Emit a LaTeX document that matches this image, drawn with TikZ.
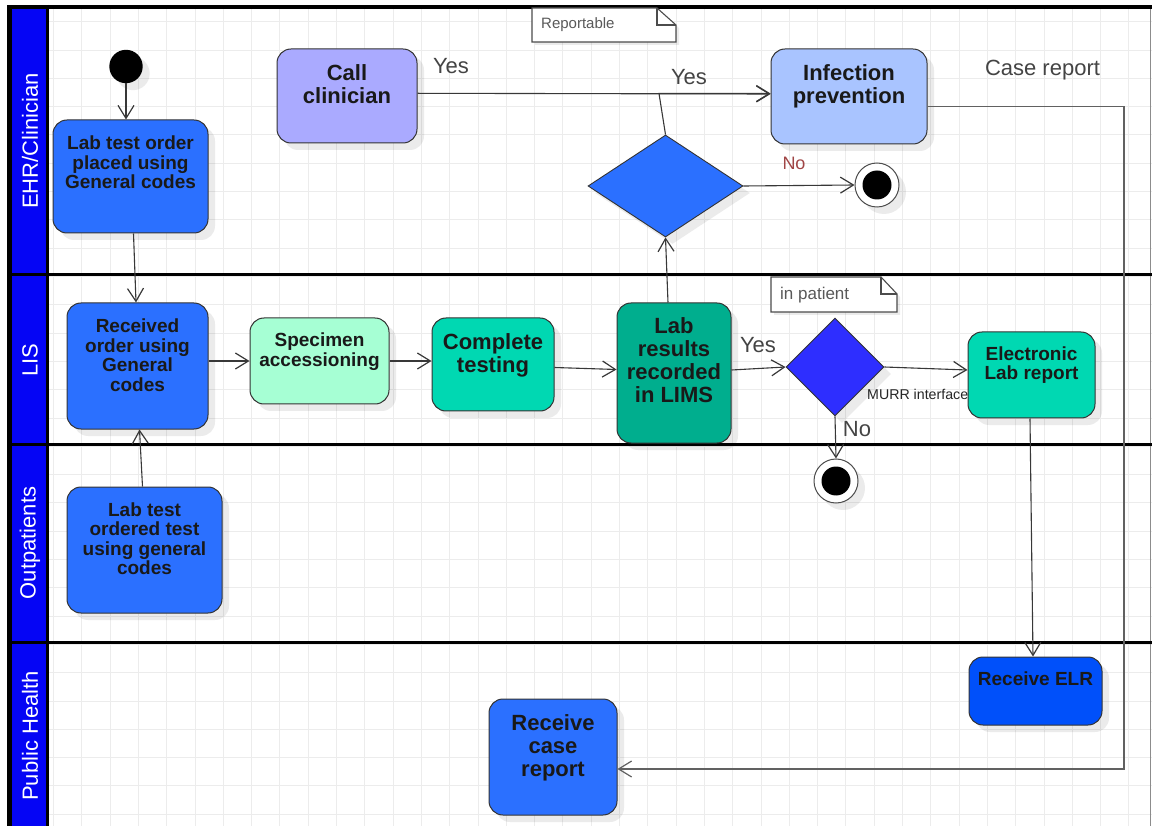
\documentclass[tikz,border=0pt]{standalone}
\usepackage{fontspec}
\setmainfont{Liberation Sans}
\usetikzlibrary{arrows.meta,shapes.geometric,shadows,calc}

\definecolor{lanehead}{HTML}{0505F5}
\definecolor{actblue}{HTML}{2B70FF}
\definecolor{actlav}{HTML}{AAAAFF}
\definecolor{actsky}{HTML}{A9C4FF}
\definecolor{actmint}{HTML}{A6FFD4}
\definecolor{actteal}{HTML}{00D8B2}
\definecolor{actdark}{HTML}{00AE8E}
\definecolor{actdeep}{HTML}{0050FA}
\definecolor{decblue}{HTML}{2E2EFF}
\definecolor{gridgray}{HTML}{ECECEC}
\definecolor{notxt}{HTML}{A04545}
\definecolor{lbltxt}{HTML}{444444}

\newcommand\fsz[2]{\fontsize{#1}{#2}\selectfont}

\begin{document}
\begin{tikzpicture}[x=1pt,y=-1pt,
  softshadow/.style={drop shadow={shadow xshift=7pt,shadow yshift=-7pt,opacity=0.08,fill=black}},
  act/.style={draw=black!80,line width=1pt,rounded corners=14pt,inner sep=0pt,softshadow},
  acttext/.style={anchor=north,align=center,inner sep=0pt,text=black!90},
  bigtext/.style={acttext,font=\bfseries\fsz{22}{23}},
  smalltext/.style={acttext,font=\bfseries\fsz{19}{19.5}},
  dec/.style={diamond,draw=black!80,line width=0.9pt,inner sep=0pt,softshadow},
  flow/.style={draw=black!78,line width=1.1pt,-{Straight Barb[length=13pt,width=16pt,line width=1.2pt]}},
  gridline/.style={draw=gridgray,line width=0.8pt},
  lanelabel/.style={rotate=90,text=white,font=\fsz{22}{22},inner sep=0pt},
  edgelabel/.style={text=lbltxt,font=\fsz{22}{22},inner sep=0pt},
  notebox/.style={draw=black!70,line width=1.1pt,fill=white,drop shadow={shadow xshift=3pt,shadow yshift=-3pt,opacity=0.08,fill=black}},
  notetext/.style={anchor=west,text=black!65,inner sep=0pt},
  endring/.style={circle,draw=black!70,line width=1pt,fill=white,minimum size=44pt,inner sep=0pt,softshadow},
  enddot/.style={circle,fill=black,minimum size=29pt,inner sep=0pt}
]
\useasboundingbox (0,0) rectangle (1152,826);
\fill[white] (0,0) rectangle (1152,826);

% background grid of the pool
\foreach \i in {0,...,38} {\draw[gridline] ({53.4+28.3*\i},9) -- ({53.4+28.3*\i},826);}
\foreach \j in {0,...,28} {\draw[gridline] (47,{21.7+28.3*\j}) -- (1152,{21.7+28.3*\j});}

% lane header column and pool borders
\fill[lanehead] (10,8) rectangle (47,826);
\fill[black] (7,5) rectangle (12,826);
\draw[line width=3pt] (47.5,5) -- (47.5,826);
\fill[black] (7,5) rectangle (1152,9.5);
\draw[black!45,line width=1pt] (1150.5,9) -- (1150.5,826);
\foreach \yy in {275,444,642} {\draw[line width=3pt] (7,\yy) -- (1152,\yy);}

\node[lanelabel] (laneehr) at (30,141) {EHR/Clinician};
\node[lanelabel] (lanelis) at (30,360) {LIS};
\node[lanelabel] (laneout) at (30,543) {Outpatients};
\node[lanelabel] (lanepub) at (30,736) {Public Health};

% notes
\draw[notebox] (532,8) -- (657,8) -- (676,25) -- (676,42) -- (532,42) -- cycle;
\draw[black!70,line width=1.1pt] (657,8) -- (657,25) -- (676,25);
\node[notetext,font=\fsz{15}{15}] (notereport) at (541,25) {Reportable};
\draw[notebox] (771,277) -- (881,277) -- (897,294) -- (897,312) -- (771,312) -- cycle;
\draw[black!70,line width=1.1pt] (881,277) -- (881,294) -- (897,294);
\node[notetext,font=\fsz{17}{17}] (notepatient) at (780,295) {in patient};

% connector label partly covered by the report box
\node[anchor=west,text=black!85,font=\fsz{14.2}{14.2},inner sep=0pt] (murr) at (867,394.5) {MURR interface};

% initial and final states
\node[circle,fill=black,minimum size=33.4pt,inner sep=0pt,softshadow] (start) at (126,66.5) {};
\node[endring] (end1) at (877,185) {};
\node[enddot] (end1dot) at (end1) {};
\node[endring] (end2) at (836,481) {};
\node[enddot] (end2dot) at (end2) {};

% activities
\node[act,fill=actblue,minimum width=155pt,minimum height=113pt] (lab1) at (130.5,176.5) {};
\node[smalltext] (lab1t) at (130.5,136) {Lab test order\\placed using\\General codes};

\node[act,fill=actlav,minimum width=140pt,minimum height=94pt] (call) at (347,96) {};
\node[bigtext] (callt) at (347,64) {Call\\clinician};

\node[act,fill=actsky,minimum width=156pt,minimum height=95pt] (infp) at (849,96.5) {};
\node[bigtext] (infpt) at (849,64) {Infection\\prevention};

\node[act,fill=actblue,minimum width=141pt,minimum height=126pt] (recv) at (137.5,366) {};
\node[smalltext] (recvt) at (137.5,319) {Received\\order using\\General\\codes};

\node[act,fill=actmint,minimum width=139pt,minimum height=86pt] (spec) at (319.5,361) {};
\node[smalltext] (spect) at (319.5,333) {Specimen\\accessioning};

\node[act,fill=actteal,minimum width=122pt,minimum height=93pt] (comp) at (493,364.5) {};
\node[bigtext] (compt) at (493,333) {Complete\\testing};

\node[act,fill=actdark,minimum width=114pt,minimum height=140pt] (labres) at (674,373) {};
\node[bigtext] (labrest) at (674,317) {Lab\\results\\recorded\\in LIMS};

\node[act,fill=actteal,minimum width=127pt,minimum height=86pt] (elr) at (1031.5,375) {};
\node[smalltext] (elrt) at (1031.5,346.5) {Electronic\\Lab report};

\node[act,fill=actblue,minimum width=155pt,minimum height=126pt] (outp) at (144.5,550) {};
\node[smalltext] (outpt) at (144.5,502.5) {Lab test\\ordered test\\using general\\codes};

\node[act,fill=actdeep,minimum width=133pt,minimum height=68pt] (relr) at (1035.5,691) {};
\node[smalltext] (relrt) at (1035.5,671.5) {Receive ELR};

\node[act,fill=actblue,minimum width=128pt,minimum height=116pt] (rcase) at (553,757) {};
\node[bigtext] (rcaset) at (553,714) {Receive\\case\\report};

% decisions
\node[dec,fill=actblue,minimum width=155pt,minimum height=102pt] (dia1) at (665.5,186) {};
\node[dec,fill=decblue,minimum width=98pt,minimum height=98pt] (dia2) at (835,367) {};

% bend points
\coordinate (j1) at (659,93.5);
\coordinate (c1) at (1124,769);

% control flow
\draw[flow] (start) -- (start |- lab1.north);
\draw[flow] ([xshift=3pt]lab1.south) -- ([xshift=-1.5pt]recv.north);
\draw[flow] ([xshift=-2pt]outp.north) -- ([xshift=2pt]recv.south);
\draw[flow] (recv.east |- spec.west) -- (spec.west);
\draw[flow] (spec.east) -- (comp.west |- spec.east);
\draw[flow] ([yshift=-3pt]comp.east) -- ([yshift=3.5pt]labres.west);
\draw[flow] ([yshift=3pt]labres.east) -- (dia2.west);
\draw[flow] (dia2.east) -- ([yshift=5pt]elr.west);
\draw[flow] (dia2.south) -- (end2.north);
\draw[flow] ([xshift=-6pt]labres.north) -- (dia1.south);
\draw[flow] ([yshift=2.7pt]call.east) -- ([yshift=2.5pt]infp.west);
\draw[flow] (dia1.north) -- (j1) -- (j1 -| infp.west);
\draw[flow] (dia1.east) -- (end1.west);
\draw[flow,draw=black!62,line width=1.4pt] ([yshift=-10pt]infp.east) -| (c1) -- (c1 -| rcase.east);
\draw[flow] ([xshift=-1.5pt]elr.south) -- ([xshift=-2.5pt]relr.north);

% flow labels
\node[edgelabel] (yescall) at (451,66) {Yes};
\node[edgelabel] (yesrep) at (689,77) {Yes};
\node[edgelabel] (yeslims) at (758,345) {Yes};
\node[edgelabel] (noinp) at (857,429) {No};
\node[edgelabel,text=notxt,font=\fsz{18}{18}] (norep) at (794,163.5) {No};
\node[edgelabel] (casereport) at (1042.5,70) {Case report};
\end{tikzpicture}
\end{document}
